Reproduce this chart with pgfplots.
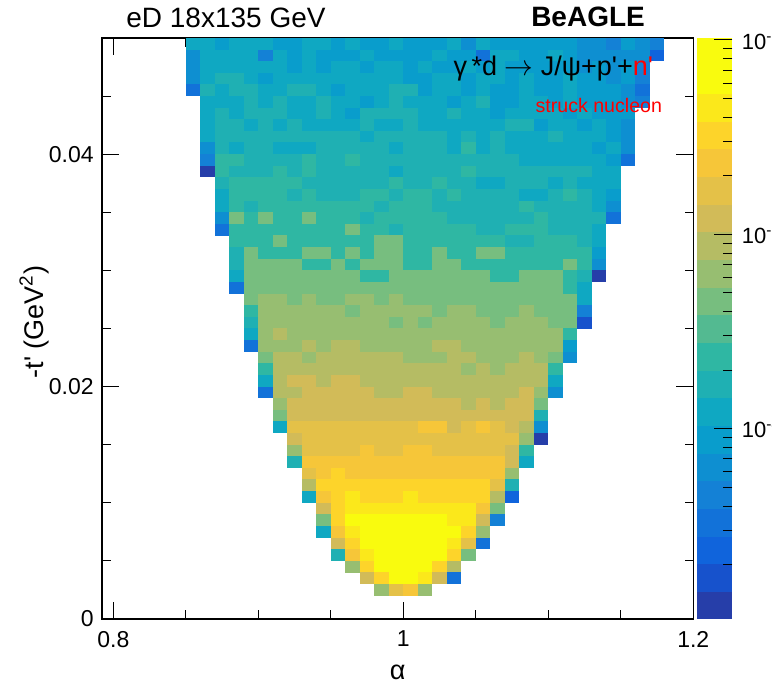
\documentclass[border=0pt]{standalone}
\usepackage{fontspec}
\setmainfont{Liberation Sans}
\usepackage{pgfplots}
\usepackage{pgfplotstable}
\pgfplotsset{compat=1.18}

% one histogram bin drawn as a filled rectangle (7.25pt x 5.81pt at this axis size)
\pgfdeclareplotmark{cell}{%
  \pgfpathrectangle{\pgfpoint{-3.66pt}{-2.94pt}}{\pgfpoint{7.32pt}{5.88pt}}%
  \pgfusepathqfill}

% ROOT kBird palette, 20 contour levels (last colour repeated for piecewise constant access)
\pgfplotsset{
  colormap={rootbird}{
    rgb255=(38,62,169) rgb255=(23,82,204) rgb255=(16,100,220) rgb255=(18,114,217)
    rgb255=(20,129,214) rgb255=(14,143,209) rgb255=(9,157,204) rgb255=(15,168,194)
    rgb255=(31,176,179) rgb255=(47,183,163) rgb255=(83,186,145) rgb255=(119,190,127)
    rgb255=(151,190,113) rgb255=(181,188,100) rgb255=(210,187,88) rgb255=(228,193,72)
    rgb255=(246,198,57) rgb255=(253,212,42) rgb255=(251,232,27) rgb255=(249,251,14)
    rgb255=(249,251,14)},
}

% i = alpha bin (0.80 + 0.01 i), j = -t' bin (0.001 j), L = colour level 0..19
\pgfplotstableread[row sep=\\]{
i j L\\
5 49 7\\6 49 7\\7 49 6\\8 49 7\\9 49 7\\10 49 7\\11 49 6\\12 49 6\\13 49 7\\14 49 7\\15 49 6\\16 49 7\\17 49 6\\18 49 6\\19 49 7\\20 49 6\\21 49 6\\22 49 6\\23 49 7\\24 49 5\\25 49 7\\26 49 6\\27 49 6\\28 49 6\\29 49 6\\30 49 6\\31 49 6\\32 49 5\\33 49 5\\34 49 4\\35 49 6\\36 49 5\\37 49 4\\
5 48 5\\6 48 7\\7 48 7\\8 48 7\\9 48 7\\10 48 4\\11 48 7\\12 48 6\\13 48 7\\14 48 6\\15 48 6\\16 48 6\\17 48 7\\18 48 6\\19 48 6\\20 48 6\\21 48 6\\22 48 7\\23 48 6\\24 48 6\\25 48 3\\26 48 7\\27 48 7\\28 48 6\\29 48 6\\30 48 7\\31 48 6\\32 48 5\\33 48 5\\34 48 5\\35 48 5\\36 48 5\\37 48 2\\
5 47 5\\6 47 7\\7 47 7\\8 47 7\\9 47 7\\10 47 7\\11 47 7\\12 47 6\\13 47 7\\14 47 6\\15 47 7\\16 47 7\\17 47 6\\18 47 7\\19 47 7\\20 47 6\\21 47 7\\22 47 6\\23 47 6\\24 47 7\\25 47 6\\26 47 7\\27 47 6\\28 47 6\\29 47 6\\30 47 6\\31 47 6\\32 47 5\\33 47 6\\34 47 5\\35 47 6\\36 47 4\\
5 46 5\\6 46 7\\7 46 8\\8 46 8\\9 46 7\\10 46 6\\11 46 7\\12 46 7\\13 46 7\\14 46 7\\15 46 7\\16 46 7\\17 46 7\\18 46 7\\19 46 7\\20 46 6\\21 46 6\\22 46 7\\23 46 7\\24 46 6\\25 46 7\\26 46 7\\27 46 6\\28 46 7\\29 46 6\\30 46 6\\31 46 7\\32 46 6\\33 46 6\\34 46 5\\35 46 6\\36 46 4\\
5 45 3\\6 45 8\\7 45 7\\8 45 8\\9 45 8\\10 45 7\\11 45 7\\12 45 8\\13 45 8\\14 45 7\\15 45 6\\16 45 7\\17 45 7\\18 45 7\\19 45 8\\20 45 8\\21 45 6\\22 45 7\\23 45 7\\24 45 6\\25 45 7\\26 45 6\\27 45 6\\28 45 7\\29 45 6\\30 45 6\\31 45 7\\32 45 6\\33 45 6\\34 45 6\\35 45 5\\36 45 3\\
6 44 7\\7 44 7\\8 44 7\\9 44 8\\10 44 7\\11 44 8\\12 44 7\\13 44 7\\14 44 8\\15 44 7\\16 44 7\\17 44 6\\18 44 7\\19 44 8\\20 44 7\\21 44 7\\22 44 7\\23 44 6\\24 44 7\\25 44 8\\26 44 6\\27 44 6\\28 44 7\\29 44 7\\30 44 6\\31 44 7\\32 44 6\\33 44 6\\34 44 6\\35 44 5\\36 44 4\\
6 43 7\\7 43 8\\8 43 7\\9 43 8\\10 43 8\\11 43 8\\12 43 7\\13 43 7\\14 43 8\\15 43 7\\16 43 6\\17 43 8\\18 43 8\\19 43 8\\20 43 8\\21 43 7\\22 43 7\\23 43 8\\24 43 7\\25 43 7\\26 43 6\\27 43 7\\28 43 7\\29 43 7\\30 43 7\\31 43 6\\32 43 7\\33 43 6\\34 43 6\\35 43 6\\
6 42 7\\7 42 8\\8 42 8\\9 42 7\\10 42 8\\11 42 7\\12 42 8\\13 42 7\\14 42 7\\15 42 7\\16 42 7\\17 42 8\\18 42 7\\19 42 7\\20 42 8\\21 42 7\\22 42 7\\23 42 7\\24 42 7\\25 42 7\\26 42 7\\27 42 8\\28 42 8\\29 42 6\\30 42 7\\31 42 7\\32 42 6\\33 42 7\\34 42 6\\35 42 5\\
6 41 7\\7 41 8\\8 41 8\\9 41 8\\10 41 8\\11 41 8\\12 41 8\\13 41 8\\14 41 8\\15 41 8\\16 41 8\\17 41 7\\18 41 8\\19 41 8\\20 41 8\\21 41 8\\22 41 8\\23 41 7\\24 41 8\\25 41 7\\26 41 8\\27 41 7\\28 41 7\\29 41 7\\30 41 8\\31 41 7\\32 41 7\\33 41 7\\34 41 6\\35 41 5\\
6 40 5\\7 40 8\\8 40 7\\9 40 8\\10 40 8\\11 40 7\\12 40 7\\13 40 7\\14 40 8\\15 40 8\\16 40 8\\17 40 8\\18 40 8\\19 40 7\\20 40 8\\21 40 8\\22 40 8\\23 40 7\\24 40 9\\25 40 7\\26 40 8\\27 40 7\\28 40 7\\29 40 7\\30 40 7\\31 40 7\\32 40 7\\33 40 6\\34 40 7\\35 40 5\\
6 39 4\\7 39 9\\8 39 9\\9 39 8\\10 39 8\\11 39 8\\12 39 8\\13 39 9\\14 39 8\\15 39 8\\16 39 9\\17 39 8\\18 39 8\\19 39 8\\20 39 8\\21 39 8\\22 39 8\\23 39 8\\24 39 8\\25 39 8\\26 39 8\\27 39 8\\28 39 7\\29 39 7\\30 39 7\\31 39 7\\32 39 7\\33 39 7\\34 39 6\\35 39 3\\
6 38 0\\7 38 9\\8 38 8\\9 38 8\\10 38 8\\11 38 9\\12 38 8\\13 38 9\\14 38 8\\15 38 8\\16 38 8\\17 38 8\\18 38 8\\19 38 7\\20 38 8\\21 38 8\\22 38 8\\23 38 8\\24 38 9\\25 38 8\\26 38 8\\27 38 8\\28 38 8\\29 38 8\\30 38 8\\31 38 8\\32 38 8\\33 38 7\\34 38 7\\
7 37 8\\8 37 9\\9 37 9\\10 37 9\\11 37 9\\12 37 9\\13 37 8\\14 37 8\\15 37 8\\16 37 8\\17 37 8\\18 37 8\\19 37 9\\20 37 8\\21 37 8\\22 37 9\\23 37 8\\24 37 8\\25 37 7\\26 37 7\\27 37 8\\28 37 8\\29 37 8\\30 37 7\\31 37 8\\32 37 7\\33 37 7\\34 37 7\\
7 36 7\\8 36 9\\9 36 9\\10 36 9\\11 36 9\\12 36 8\\13 36 9\\14 36 8\\15 36 8\\16 36 8\\17 36 9\\18 36 9\\19 36 8\\20 36 9\\21 36 9\\22 36 8\\23 36 9\\24 36 8\\25 36 8\\26 36 8\\27 36 8\\28 36 7\\29 36 7\\30 36 8\\31 36 9\\32 36 8\\33 36 7\\34 36 6\\
7 35 7\\8 35 9\\9 35 8\\10 35 9\\11 35 9\\12 35 9\\13 35 9\\14 35 9\\15 35 9\\16 35 9\\17 35 9\\18 35 8\\19 35 9\\20 35 9\\21 35 9\\22 35 8\\23 35 8\\24 35 8\\25 35 8\\26 35 8\\27 35 8\\28 35 9\\29 35 8\\30 35 8\\31 35 8\\32 35 8\\33 35 7\\34 35 5\\
7 34 5\\8 34 10\\9 34 9\\10 34 10\\11 34 9\\12 34 9\\13 34 10\\14 34 9\\15 34 9\\16 34 9\\17 34 8\\18 34 9\\19 34 9\\20 34 9\\21 34 9\\22 34 9\\23 34 8\\24 34 8\\25 34 8\\26 34 8\\27 34 8\\28 34 8\\29 34 9\\30 34 8\\31 34 8\\32 34 8\\33 34 8\\34 34 3\\
7 33 3\\8 33 9\\9 33 9\\10 33 9\\11 33 9\\12 33 9\\13 33 9\\14 33 9\\15 33 9\\16 33 10\\17 33 9\\18 33 9\\19 33 8\\20 33 9\\21 33 9\\22 33 9\\23 33 9\\24 33 9\\25 33 8\\26 33 8\\27 33 9\\28 33 9\\29 33 9\\30 33 8\\31 33 8\\32 33 8\\33 33 7\\
8 32 9\\9 32 9\\10 32 9\\11 32 10\\12 32 9\\13 32 9\\14 32 9\\15 32 9\\16 32 9\\17 32 9\\18 32 10\\19 32 10\\20 32 9\\21 32 9\\22 32 9\\23 32 9\\24 32 9\\25 32 9\\26 32 9\\27 32 8\\28 32 8\\29 32 9\\30 32 9\\31 32 9\\32 32 8\\33 32 7\\
8 31 8\\9 31 10\\10 31 9\\11 31 9\\12 31 9\\13 31 10\\14 31 10\\15 31 9\\16 31 10\\17 31 9\\18 31 10\\19 31 10\\20 31 9\\21 31 9\\22 31 10\\23 31 9\\24 31 9\\25 31 10\\26 31 10\\27 31 9\\28 31 9\\29 31 9\\30 31 9\\31 31 9\\32 31 9\\33 31 6\\
8 30 8\\9 30 10\\10 30 10\\11 30 10\\12 30 10\\13 30 9\\14 30 9\\15 30 10\\16 30 9\\17 30 10\\18 30 10\\19 30 10\\20 30 9\\21 30 9\\22 30 10\\23 30 10\\24 30 9\\25 30 9\\26 30 9\\27 30 9\\28 30 9\\29 30 9\\30 30 9\\31 30 10\\32 30 9\\33 30 5\\
8 29 7\\9 29 10\\10 29 10\\11 29 10\\12 29 10\\13 29 10\\14 29 10\\15 29 10\\16 29 10\\17 29 9\\18 29 9\\19 29 10\\20 29 10\\21 29 10\\22 29 10\\23 29 10\\24 29 10\\25 29 10\\26 29 9\\27 29 9\\28 29 10\\29 29 10\\30 29 10\\31 29 9\\32 29 8\\33 29 0\\
8 28 3\\9 28 10\\10 28 10\\11 28 10\\12 28 10\\13 28 10\\14 28 10\\15 28 10\\16 28 10\\17 28 10\\18 28 10\\19 28 10\\20 28 10\\21 28 10\\22 28 10\\23 28 10\\24 28 10\\25 28 10\\26 28 10\\27 28 10\\28 28 10\\29 28 10\\30 28 10\\31 28 9\\32 28 7\\
9 27 10\\10 27 11\\11 27 11\\12 27 10\\13 27 11\\14 27 10\\15 27 10\\16 27 11\\17 27 11\\18 27 10\\19 27 11\\20 27 10\\21 27 10\\22 27 10\\23 27 10\\24 27 10\\25 27 10\\26 27 10\\27 27 10\\28 27 10\\29 27 10\\30 27 10\\31 27 10\\32 27 7\\
9 26 9\\10 26 11\\11 26 11\\12 26 11\\13 26 11\\14 26 11\\15 26 11\\16 26 10\\17 26 11\\18 26 11\\19 26 11\\20 26 11\\21 26 11\\22 26 10\\23 26 11\\24 26 11\\25 26 10\\26 26 10\\27 26 10\\28 26 11\\29 26 10\\30 26 10\\31 26 10\\32 26 4\\
9 25 8\\10 25 11\\11 25 11\\12 25 11\\13 25 11\\14 25 11\\15 25 11\\16 25 11\\17 25 11\\18 25 11\\19 25 10\\20 25 11\\21 25 10\\22 25 11\\23 25 11\\24 25 11\\25 25 11\\26 25 10\\27 25 11\\28 25 11\\29 25 11\\30 25 10\\31 25 10\\32 25 1\\
9 24 7\\10 24 11\\11 24 12\\12 24 11\\13 24 11\\14 24 11\\15 24 11\\16 24 11\\17 24 11\\18 24 11\\19 24 11\\20 24 11\\21 24 11\\22 24 11\\23 24 11\\24 24 11\\25 24 11\\26 24 11\\27 24 11\\28 24 11\\29 24 11\\30 24 11\\31 24 9\\
9 23 3\\10 23 11\\11 23 11\\12 23 11\\13 23 12\\14 23 11\\15 23 12\\16 23 12\\17 23 11\\18 23 11\\19 23 11\\20 23 11\\21 23 11\\22 23 12\\23 23 12\\24 23 11\\25 23 11\\26 23 11\\27 23 11\\28 23 11\\29 23 11\\30 23 11\\31 23 6\\
10 22 10\\11 22 12\\12 22 12\\13 22 11\\14 22 12\\15 22 12\\16 22 12\\17 22 12\\18 22 12\\19 22 12\\20 22 11\\21 22 11\\22 22 11\\23 22 12\\24 22 12\\25 22 11\\26 22 11\\27 22 11\\28 22 12\\29 22 11\\30 22 10\\31 22 5\\
10 21 9\\11 21 12\\12 21 12\\13 21 12\\14 21 12\\15 21 12\\16 21 12\\17 21 12\\18 21 12\\19 21 12\\20 21 12\\21 21 12\\22 21 12\\23 21 12\\24 21 11\\25 21 12\\26 21 11\\27 21 12\\28 21 12\\29 21 12\\30 21 9\\
10 20 7\\11 20 12\\12 20 13\\13 20 13\\14 20 12\\15 20 13\\16 20 13\\17 20 12\\18 20 12\\19 20 12\\20 20 12\\21 20 12\\22 20 12\\23 20 12\\24 20 12\\25 20 12\\26 20 12\\27 20 12\\28 20 12\\29 20 12\\30 20 7\\
10 19 3\\11 19 12\\12 19 12\\13 19 13\\14 19 13\\15 19 13\\16 19 13\\17 19 13\\18 19 12\\19 19 12\\20 19 13\\21 19 13\\22 19 12\\23 19 12\\24 19 12\\25 19 12\\26 19 12\\27 19 12\\28 19 13\\29 19 11\\30 19 5\\
11 18 11\\12 18 13\\13 18 13\\14 18 13\\15 18 13\\16 18 13\\17 18 13\\18 18 13\\19 18 13\\20 18 13\\21 18 13\\22 18 13\\23 18 13\\24 18 12\\25 18 13\\26 18 12\\27 18 13\\28 18 13\\29 18 10\\
11 17 10\\12 17 13\\13 17 13\\14 17 13\\15 17 13\\16 17 13\\17 17 13\\18 17 13\\19 17 13\\20 17 13\\21 17 13\\22 17 13\\23 17 13\\24 17 13\\25 17 13\\26 17 13\\27 17 13\\28 17 13\\29 17 8\\
11 16 7\\12 16 14\\13 16 14\\14 16 14\\15 16 14\\16 16 14\\17 16 14\\18 16 14\\19 16 14\\20 16 14\\21 16 15\\22 16 15\\23 16 13\\24 16 14\\25 16 15\\26 16 14\\27 16 13\\28 16 12\\29 16 5\\
12 15 13\\13 15 14\\14 15 14\\15 15 14\\16 15 14\\17 15 14\\18 15 14\\19 15 14\\20 15 14\\21 15 14\\22 15 14\\23 15 14\\24 15 14\\25 15 14\\26 15 14\\27 15 14\\28 15 11\\29 15 0\\
12 14 11\\13 14 14\\14 14 14\\15 14 14\\16 14 14\\17 14 15\\18 14 14\\19 14 14\\20 14 15\\21 14 15\\22 14 14\\23 14 14\\24 14 14\\25 14 14\\26 14 14\\27 14 13\\28 14 9\\
12 13 8\\13 13 15\\14 13 15\\15 13 15\\16 13 15\\17 13 15\\18 13 15\\19 13 15\\20 13 15\\21 13 15\\22 13 15\\23 13 15\\24 13 15\\25 13 15\\26 13 15\\27 13 13\\28 13 7\\
13 12 14\\14 12 15\\15 12 16\\16 12 15\\17 12 15\\18 12 15\\19 12 15\\20 12 15\\21 12 15\\22 12 15\\23 12 15\\24 12 15\\25 12 15\\26 12 15\\27 12 11\\
13 11 12\\14 11 16\\15 11 16\\16 11 16\\17 11 16\\18 11 16\\19 11 16\\20 11 16\\21 11 16\\22 11 16\\23 11 16\\24 11 16\\25 11 16\\26 11 14\\27 11 8\\
13 10 7\\14 10 15\\15 10 16\\16 10 17\\17 10 16\\18 10 16\\19 10 16\\20 10 17\\21 10 16\\22 10 16\\23 10 16\\24 10 16\\25 10 16\\26 10 12\\27 10 2\\
14 9 13\\15 9 16\\16 9 17\\17 9 17\\18 9 17\\19 9 17\\20 9 17\\21 9 17\\22 9 17\\23 9 17\\24 9 17\\25 9 15\\26 9 10\\
14 8 10\\15 8 16\\16 8 18\\17 8 18\\18 8 18\\19 8 18\\20 8 18\\21 8 18\\22 8 18\\23 8 17\\24 8 17\\25 8 13\\26 8 4\\
14 7 7\\15 7 15\\16 7 17\\17 7 19\\18 7 19\\19 7 19\\20 7 19\\21 7 19\\22 7 18\\23 7 18\\24 7 16\\25 7 11\\
15 6 13\\16 6 16\\17 6 18\\18 6 19\\19 6 19\\20 6 19\\21 6 19\\22 6 18\\23 6 17\\24 6 14\\25 6 3\\
15 5 8\\16 5 15\\17 5 17\\18 5 19\\19 5 19\\20 5 19\\21 5 19\\22 5 18\\23 5 16\\24 5 10\\
16 4 11\\17 4 16\\18 4 18\\19 4 19\\20 4 19\\21 4 18\\22 4 16\\23 4 12\\
17 3 13\\18 3 16\\19 3 18\\20 3 18\\21 3 17\\22 3 13\\23 3 3\\
18 2 11\\19 2 14\\20 2 15\\21 2 11\\
}\cells

\begin{document}
\begin{tikzpicture}
\useasboundingbox (0,0) rectangle (388.5pt,344pt);
\clip (0,0) rectangle (385.75pt,344pt);
\begin{axis}[
  at={(51.15pt,34.5pt)}, anchor=south west,
  width=295.5pt, height=290.5pt, scale only axis,
  xmin=0.79241, xmax=1.2, ymin=0, ymax=0.05,
  xtick={0.8,1,1.2}, minor xtick={0.85,0.9,0.95,1.05,1.1,1.15},
  ytick={0,0.02,0.04}, minor ytick={0.005,0.01,0.015,0.025,0.03,0.035,0.045},
  scaled y ticks=false,
  yticklabel style={/pgf/number format/fixed, xshift=-0.8pt},
  xticklabel style={yshift=-2.5pt},
  /pgf/number format/assume math mode=true,
  tick label style={font=\fontsize{11.5}{13}\selectfont},
  tick align=inside,
  major tick length=8.5pt, minor tick length=4.3pt,
  tick style={black, line width=0.5pt},
  axis line style={line width=0.8pt},
  label style={font=\fontsize{13.5}{16}\selectfont},
  xlabel={α},
  xlabel style={at={(axis description cs:0.5,-0.0912)}, anchor=center},
  ylabel={-t\textquotesingle{} (GeV\textsuperscript{2})},
  ylabel style={at={(axis description cs:-0.1156,0.511)}, anchor=center},
  colormap name=rootbird, colormap access=piecewise constant,
  point meta min=-4.979, point meta max=-1.990,
  colorbar,
  colorbar shift/.style={xshift=1.7pt},
  colorbar style={
    at={(parent axis.north east)}, anchor=north west,
    width=17.8pt, height=290.5pt, scale only axis,
    xtick=\empty,
    ytick={-4,-3,-2},
    yticklabels={10\textsuperscript{-4},10\textsuperscript{-3},10\textsuperscript{-2}},
    minor ytick={-4.699,-4.523,-4.398,-4.301,-4.222,-4.155,-4.097,-4.046,
                 -3.699,-3.523,-3.398,-3.301,-3.222,-3.155,-3.097,-3.046,
                 -2.699,-2.523,-2.398,-2.301,-2.222,-2.155,-2.097,-2.046},
    ytick pos=right, yticklabel pos=right,
    tick align=inside,
    major tick length=9pt, minor tick length=4.5pt,
    tick style={black, line width=0.5pt},
    axis line style={draw=none},
    yticklabel style={font=\fontsize{11}{13}\selectfont, xshift=1.3pt},
  },
  clip=false,
]
\addplot[scatter, only marks, mark=cell, point meta=explicit,
  scatter/use mapped color={draw=none, fill=mapped color}]
  table[x expr=0.805+0.01*\thisrow{i}, y expr=0.0005+0.001*\thisrow{j},
        meta expr=-4.979+0.14945*(\thisrow{L}+0.5)] {\cells};

\coordinate (ttl) at (rel axis cs:0.040,1.0172);
\coordinate (gen) at (rel axis cs:0.9187,1.019);
\coordinate (eq) at (rel axis cs:0.5937,0.9363);
\coordinate (sn) at (rel axis cs:0.7325,0.8709);
\end{axis}
\node[anchor=base west, inner sep=0pt, font=\fontsize{14}{16}\selectfont]
  at (ttl) {eD 18x135 GeV};
\node[anchor=base east, inner sep=0pt, font=\bfseries\fontsize{14}{16}\selectfont]
  at (gen) {BeAGLE};
\node[anchor=base west, inner sep=0pt, font=\fontsize{13.5}{16}\selectfont]
  at (eq) {γ\,*d $\rightarrow$ J/ψ+p\textquotesingle+\textcolor{red}{n\textquotesingle}};
\node[anchor=base west, inner sep=0pt, text=red, font=\fontsize{9.8}{12}\selectfont]
  at (sn) {struck nucleon};
\end{tikzpicture}
\end{document}
